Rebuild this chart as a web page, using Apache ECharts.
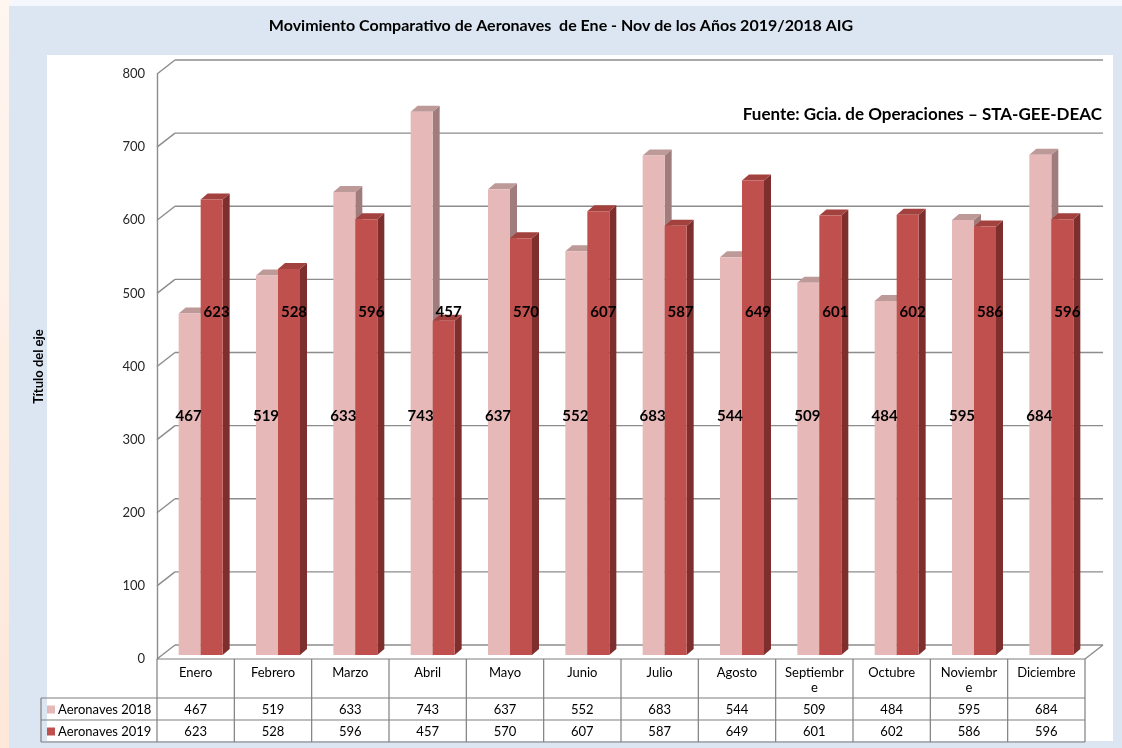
<!DOCTYPE html>
<html>
<head>
<meta charset="utf-8">
<script src="https://cdn.jsdelivr.net/npm/echarts@6/dist/echarts.min.js"></script>
<style>
html,body{margin:0;padding:0;background:#dce6f2;}
#c{width:1122px;height:748px;}
</style>
</head>
<body>
<div id="c"></div>
<script>
// ---------- DATA ----------
const categories = ['Enero','Febrero','Marzo','Abril','Mayo','Junio','Julio','Agosto','Septiembre','Octubre','Noviembre','Diciembre'];
const aeronaves2018 = [467,519,633,743,637,552,683,544,509,484,595,684];
const aeronaves2019 = [623,528,596,457,570,607,587,649,601,602,586,596];
const seriesNames = ['Aeronaves 2018','Aeronaves 2019'];
const yTicks = [0,100,200,300,400,500,600,700,800];
const titleText = 'Movimiento Comparativo de Aeronaves  de Ene - Nov de los Años 2019/2018 AIG';
const sourceText = 'Fuente: Gcia. de Operaciones \u2013 STA-GEE-DEAC';
const yAxisName = 'Título del eje';

// ---------- STYLE ----------
const FONT = 'Lato, "Open Sans", "Liberation Sans", sans-serif';
const COLORS = [
  {face:'#e6b9b8', side:'#a07d7c', top:'#bd9998', key:'#e6b9b8'},
  {face:'#c0504d', side:'#7e2f2d', top:'#a2413e', key:'#c0504d'}
];
const DEPTH_DX = 18, DEPTH_DY = -14;   // back wall offset
const FACE_DX = 5, FACE_DY = -4;       // bar front face offset
const BAR_W = 22, BAR_DX = 7, BAR_DY = -6;
const LABEL_VAL = [326, 469];          // vertical placement of value labels (axis units)
const LINE = '#8c8c8c';
const TLINE = '#7f7f7f';

// category label wrap width (to mimic the original wrapping)
const mctx = document.createElement('canvas').getContext('2d');
mctx.font = '13px ' + FONT;
const mw = s => mctx.measureText(s).width;
const need = Math.max(mw('Diciembre'), mw('Septiembr'), mw('Noviembr'));
const limit = Math.min(mw('Septiembre'), mw('Noviembre'));
const LABEL_W = need < limit ? (need + limit) / 2 : need + 1;

const chart = echarts.init(document.getElementById('c'), null, {renderer:'canvas'});

function barRenderer(k) {
  const c = COLORS[k];
  return function (params, api) {
    const i = api.value(0), v = api.value(1);
    const base = api.coord([i, 0]);
    const top = api.coord([i, v]);
    const cx = base[0];
    const x0 = cx + FACE_DX - BAR_W + k * BAR_W;
    const x1 = x0 + BAR_W;
    const yb = base[1] + FACE_DY;
    const yt = top[1] + FACE_DY;
    return {
      type: 'group',
      children: [
        {type:'polygon', shape:{points:[[x1,yt],[x1+BAR_DX,yt+BAR_DY],[x1+BAR_DX,yb+BAR_DY],[x1,yb]]}, style:{fill:c.side}},
        {type:'polygon', shape:{points:[[x0,yt],[x0+BAR_DX,yt+BAR_DY],[x1+BAR_DX,yt+BAR_DY],[x1,yt]]}, style:{fill:c.top}},
        {type:'rect', shape:{x:x0, y:yt, width:BAR_W, height:yb-yt}, style:{fill:c.face}}
      ]
    };
  };
}

function wallRenderer(params, api) {
  const t = api.value(1);
  const p = api.coord([0, t]);
  const bw = api.size([1, 0])[0];
  const xl = p[0] - bw / 2;
  const xr = api.coord([categories.length - 1, t])[0] + bw / 2;
  const y = p[1];
  const ls = {stroke: LINE, lineWidth: 1.4};
  const ch = [
    {type:'line', shape:{x1:xl, y1:y, x2:xl+DEPTH_DX, y2:y+DEPTH_DY}, style:ls},
    {type:'line', shape:{x1:xl+DEPTH_DX, y1:y+DEPTH_DY, x2:xr+DEPTH_DX, y2:y+DEPTH_DY}, style:ls}
  ];
  if (t === 0) {
    ch.push({type:'line', shape:{x1:xr, y1:y, x2:xr+DEPTH_DX, y2:y+DEPTH_DY}, style:ls});
    ch.push({type:'line', shape:{x1:xl, y1:y, x2:xr, y2:y}, style:{stroke:TLINE, lineWidth:1.2}});
  }
  return {type:'group', children: ch};
}

function labelRenderer(params, api) {
  const i = api.value(0);
  const cx = api.coord([i, 0])[0];
  const ch = [];
  [aeronaves2018, aeronaves2019].forEach((arr, k) => {
    const y = api.coord([i, LABEL_VAL[k]])[1] + FACE_DY;
    const x = cx + FACE_DX - BAR_W / 2 + k * BAR_W + (k === 0 ? -1 : 5);
    ch.push({type:'text', style:{x:x, y:y, text:String(arr[i]), fill:'#000', font:'bold 15px ' + FONT, textAlign:'center', textVerticalAlign:'middle'}});
  });
  return {type:'group', children: ch};
}

const ROW_H1 = 39, ROW_H = 22;
function tableRenderer(params, api) {
  const i = api.value(0);
  const p = api.coord([i, 0]);
  const bw = api.size([1, 0])[0];
  const cx = p[0], y0 = p[1];
  const ls = {stroke: TLINE, lineWidth: 1.2};
  const yEnd = y0 + ROW_H1 + 2 * ROW_H;
  const ch = [
    {type:'line', shape:{x1:cx-bw/2, y1:y0, x2:cx-bw/2, y2:yEnd}, style:ls}
  ];
  if (i === categories.length - 1) {
    ch.push({type:'line', shape:{x1:cx+bw/2, y1:y0, x2:cx+bw/2, y2:yEnd}, style:ls});
  }
  [aeronaves2018, aeronaves2019].forEach((arr, k) => {
    ch.push({type:'text', style:{x:cx, y:y0 + ROW_H1 + ROW_H * k + ROW_H / 2 + 1, text:String(arr[i]), fill:'#000', font:'13px ' + FONT, textAlign:'center', textVerticalAlign:'middle'}});
  });
  return {type:'group', children: ch};
}

const GRID = {left:157, right:37, top:74, bottom:89};
const y0 = 748 - GRID.bottom;
const tableLeft = 41, tableRight = 1122 - GRID.right;

const graphic = [
  {type:'rect', z:-10, shape:{x:0, y:0, width:1122, height:6}, style:{fill:'#f4f7fb'}},
  {type:'rect', z:-10, shape:{x:0, y:0, width:9, height:748}, style:{fill:new echarts.graphic.LinearGradient(0,0,0,1,[{offset:0,color:'#fff6f0'},{offset:1,color:'#fde8d9'}])}},
  {type:'rect', z:-9, shape:{x:47, y:55, width:1066, height:686}, style:{fill:'#ffffff'}},
  {type:'text', left:'center', top:18, style:{text:titleText, font:'bold 16px ' + FONT, fill:'#000'}},
  {type:'text', right:1122-1102, top:106, style:{text:sourceText, font:'bold 17px ' + FONT, fill:'#000'}}
];
// table horizontal lines & row header
[y0 + ROW_H1, y0 + ROW_H1 + ROW_H, y0 + ROW_H1 + 2 * ROW_H].forEach(y => {
  graphic.push({type:'line', z:5, shape:{x1:tableLeft, y1:y, x2:tableRight, y2:y}, style:{stroke:TLINE, lineWidth:1.2}});
});
graphic.push({type:'line', z:5, shape:{x1:tableLeft, y1:y0+ROW_H1, x2:tableLeft, y2:y0+ROW_H1+2*ROW_H}, style:{stroke:TLINE, lineWidth:1.2}});
seriesNames.forEach((n, k) => {
  const yc = y0 + ROW_H1 + ROW_H * k + ROW_H / 2 + 1;
  graphic.push({type:'rect', z:5, shape:{x:47, y:yc-4.5, width:8, height:8}, style:{fill:COLORS[k].key}});
  graphic.push({type:'text', z:5, style:{x:58, y:yc, text:n, font:'13px ' + FONT, fill:'#000', textVerticalAlign:'middle'}});
});

const option = {
  backgroundColor: '#dce6f2',
  animation: false,
  grid: Object.assign({containLabel:false, outerBoundsMode:'none'}, GRID),
  xAxis: {
    type:'category', data: categories,
    axisLine:{show:false}, axisTick:{show:false}, splitLine:{show:false},
    axisLabel:{interval:0, margin:6, color:'#000', fontSize:13, fontFamily:FONT, lineHeight:15,
      width:LABEL_W, overflow:'breakAll', verticalAlign:'top'}
  },
  yAxis: {
    type:'value', min:0, max:800, interval:100,
    axisLine:{show:true, lineStyle:{color:LINE, width:1.4}}, axisTick:{show:false}, splitLine:{show:false},
    axisLabel:{margin:12, color:'#262626', fontSize:13, fontFamily:FONT},
    name: yAxisName, nameLocation:'middle', nameGap:112, nameRotate:90,
    nameTextStyle:{fontWeight:'bold', fontSize:13, color:'#000', fontFamily:FONT}
  },
  graphic: graphic,
  series: [
    {type:'custom', name:'walls', z:1, clip:false, silent:true, renderItem: wallRenderer,
      data: yTicks.map(t => [0, t]), encode:{x:0, y:1}},
    {type:'custom', name:seriesNames[0], z:2, clip:false, renderItem: barRenderer(0),
      data: aeronaves2018.map((v, i) => [i, v]), encode:{x:0, y:1}},
    {type:'custom', name:seriesNames[1], z:3, clip:false, renderItem: barRenderer(1),
      data: aeronaves2019.map((v, i) => [i, v]), encode:{x:0, y:1}},
    {type:'custom', name:'labels', z:4, clip:false, silent:true, renderItem: labelRenderer,
      data: categories.map((c, i) => [i, 0]), encode:{x:0, y:1}},
    {type:'custom', name:'table', z:5, clip:false, silent:true, renderItem: tableRenderer,
      data: categories.map((c, i) => [i, 0]), encode:{x:0, y:1}}
  ]
};
chart.setOption(option);
</script>
</body>
</html>
